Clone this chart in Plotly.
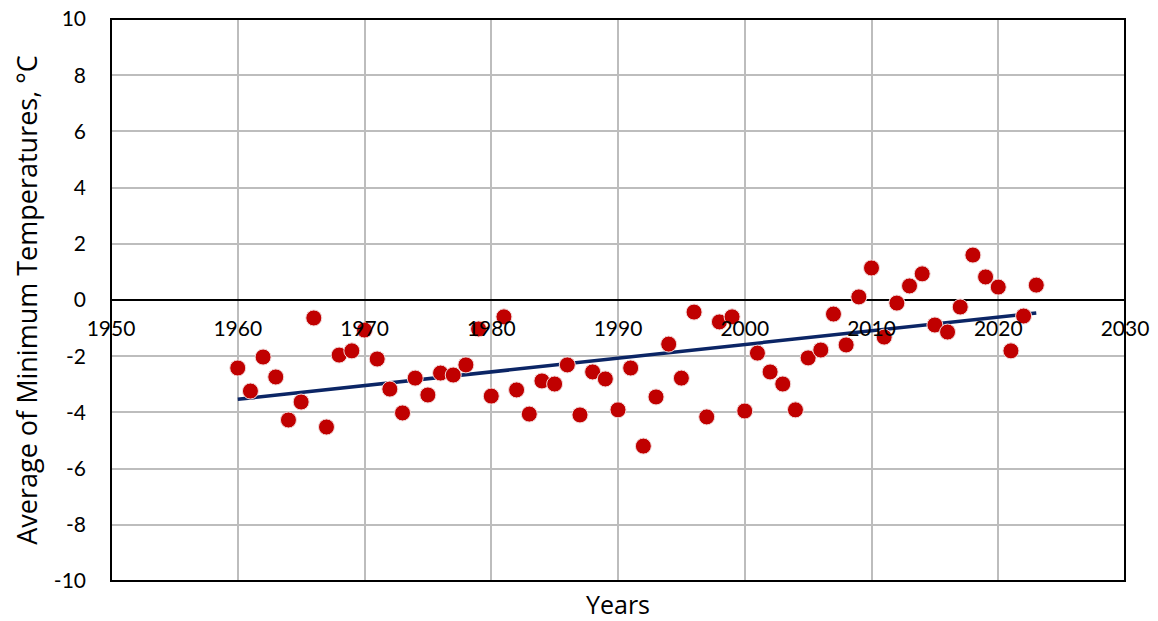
import numpy as np
import plotly.graph_objects as go

years = list(range(1960, 2024))
min_temps = [
    -2.42, -3.24, -2.03, -2.74, -4.27, -3.63, -0.64, -4.52, -1.96, -1.81,
    -1.07, -2.10, -3.17, -4.02, -2.78, -3.38, -2.60, -2.67, -2.31, -1.03,
    -3.42, -0.60, -3.20, -4.06, -2.88, -2.99, -2.31, -4.09, -2.56, -2.81,
    -3.91, -2.42, -5.20, -3.45, -1.57, -2.78, -0.43, -4.16, -0.78, -0.60,
    -3.95, -1.89, -2.56, -2.99, -3.91, -2.06, -1.78, -0.50, -1.60, 0.11,
    1.14, -1.32, -0.11, 0.50, 0.93, -0.89, -1.14, -0.25, 1.60, 0.82,
    0.46, -1.81, -0.57, 0.53,
]
x_ticks = [1950, 1960, 1970, 1980, 1990, 2000, 2010, 2020, 2030]
y_ticks = [-10, -8, -6, -4, -2, 0, 2, 4, 6, 8, 10]

# linear trend line through the yearly values
slope, intercept = np.polyfit(years, min_temps, 1)
trend_x = [years[0], years[-1]]
trend_y = [slope * x + intercept for x in trend_x]

FONT = "Lato, Open Sans, sans-serif"
TITLE_FONT = "Open Sans, Lato, sans-serif"

fig = go.Figure()
fig.add_trace(go.Scatter(
    x=trend_x, y=trend_y, mode="lines",
    line=dict(color="#0B2565", width=3.5),
    showlegend=False, hoverinfo="skip",
))
fig.add_trace(go.Scatter(
    x=years, y=min_temps, mode="markers",
    marker=dict(size=16, color="#C00000", line=dict(color="#F2DADA", width=1)),
    showlegend=False,
))

fig.update_layout(
    width=1158, height=621,
    margin=dict(l=111, r=33, t=19, b=40),
    paper_bgcolor="white", plot_bgcolor="white",
    font=dict(family=FONT, size=20, color="#000000"),
    xaxis=dict(
        range=[1950, 2030], tickvals=x_ticks,
        ticktext=[str(v) for v in x_ticks],
        showgrid=True, gridcolor="#BDBDBD", gridwidth=2,
        showline=False, zeroline=False, ticks="",
        anchor="free", position=0.5, ticklabelstandoff=14,
        tickfont=dict(family=FONT, size=21),
        automargin=False,
    ),
    yaxis=dict(
        range=[-10, 10], tickvals=y_ticks,
        ticktext=[str(v) for v in y_ticks],
        showgrid=True, gridcolor="#BDBDBD", gridwidth=1.5,
        zeroline=True, zerolinecolor="#000000", zerolinewidth=1.5,
        showline=False, ticks="", ticklabelstandoff=24,
        tickfont=dict(family=FONT, size=21),
        title=dict(text="Average of Minimum Temperatures, °C",
                   font=dict(family=TITLE_FONT, size=27), standoff=8),
        automargin=False,
    ),
    shapes=[dict(type="rect", xref="paper", yref="paper",
                 x0=0, y0=0, x1=1, y1=1,
                 line=dict(color="#000000", width=2))],
    annotations=[dict(text="Years", xref="paper", yref="paper",
                      x=0.5, y=0, yshift=-23, showarrow=False,
                      yanchor="middle",
                      font=dict(family=TITLE_FONT, size=25))],
)

fig.write_html("out.html")
